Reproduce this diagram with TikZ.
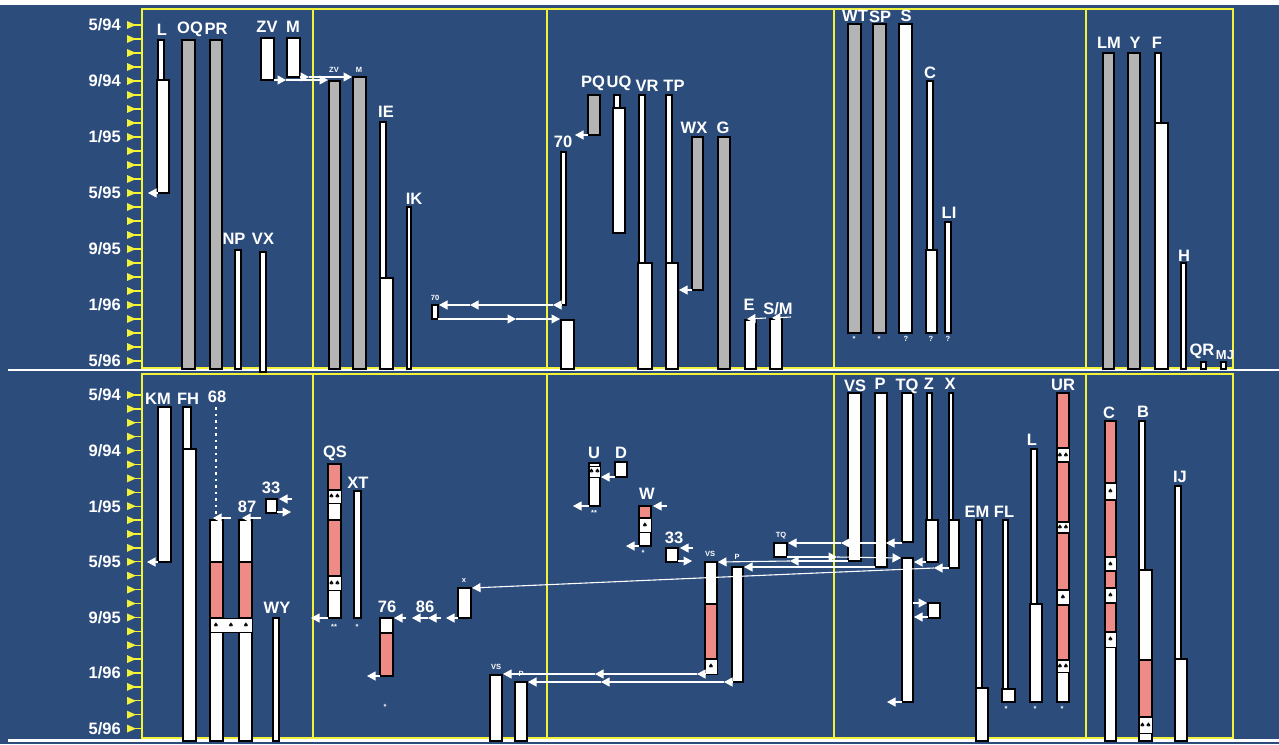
\documentclass[tikz,border=0pt]{standalone}
\usepackage{fontspec}
\setmainfont{Liberation Sans}
\newfontfamily\symfont{DejaVu Sans}
\usepackage{tikz}
\usetikzlibrary{arrows, arrows.meta}
\definecolor{slideblue}{HTML}{2C4C7C}
\definecolor{gridyellow}{HTML}{F2F23A}
\definecolor{barpink}{HTML}{EE8B86}
\definecolor{bargray}{HTML}{B4B4B4}

\begin{document}
\begin{tikzpicture}[x=1pt, y=-1pt]
\tikzstyle{wbar} = [draw=black, fill=white, line width=1.1pt]
\tikzstyle{gbar} = [draw=black, fill=bargray, line width=1.1pt]
\tikzstyle{pbar} = [draw=black, fill=barpink, line width=1.1pt]
\tikzstyle{band} = [draw=black, fill=white, line width=0.9pt]
\tikzstyle{lbl} = [text=white, font=\bfseries\fontsize{16.5}{16.5}\selectfont, inner sep=0pt]
\tikzstyle{axislbl} = [text=white, font=\bfseries\fontsize{16.5}{16.5}\selectfont, inner sep=0pt, anchor=east]
\tikzstyle{tinylbl} = [text=white, font=\bfseries\fontsize{7.5}{7.5}\selectfont, inner sep=0pt]
\tikzstyle{spade} = [text=black, font=\symfont\fontsize{6.5}{6.5}\selectfont, inner sep=0pt]
\tikzstyle{warr} = [white, line width=1.1pt, -{Triangle[width=9pt,length=8.5pt]}]
\tikzstyle{wline} = [white, line width=1.1pt]
\tikzstyle{frame} = [draw=gridyellow, line width=1.3pt]

\useasboundingbox (0,0) rectangle (1279,744);
\fill[slideblue] (0,0) rectangle (1279,744);
\fill[white] (0,0) rectangle (1279,5);
\fill[white] (8,368.5) rectangle (1279,371);
\fill[white] (8,739) rectangle (1279,742);

% time axes
\foreach \i in {0,...,24} {
  \pgfmathsetmacro{\ya}{25+14*\i}
  \pgfmathsetmacro{\yb}{395+13.9*\i}
  \fill[gridyellow] (127,\ya-4) -- (136,\ya) -- (127,\ya+4) -- cycle;
  \draw[gridyellow, line width=1.3pt] (127,\ya) -- (141,\ya);
  \fill[gridyellow] (127,\yb-4) -- (136,\yb) -- (127,\yb+4) -- cycle;
  \draw[gridyellow, line width=1.3pt] (127,\yb) -- (141,\yb);
}
\foreach \i/\mm/\yy in {0/5/94,1/9/94,2/1/95,3/5/95,4/9/95,5/1/96,6/5/96} {
  \node[axislbl] (ta\i) at (121,25+56*\i) {\mm/\yy};
  \node[axislbl] (ba\i) at (121,395+55.6*\i) {\mm/\yy};
}

\draw[frame] (142,9) rectangle (1233,368);
\draw[frame] (142,374) rectangle (1233,738);
\foreach \xx in {313,547,834,1086} {
  \draw[frame] (\xx,9) -- (\xx,368);
  \draw[frame] (\xx,374) -- (\xx,738);
}

% ---------- upper chart ----------
\draw[wbar] (158,40) rectangle (164,80);
\draw[wbar] (157,80) rectangle (169,193);
\draw[warr] (158,193) -- (148,193);
\draw[gbar] (182,40) rectangle (195,369);
\draw[gbar] (210,40) rectangle (222,369);
\draw[wbar] (235,250) rectangle (241,369);
\draw[wbar] (260,252) rectangle (266,372);
\draw[wbar] (261,38) rectangle (274,80);
\draw[wbar] (287,38) rectangle (300,77);
\draw[warr] (274,80) -- (286,80);
\draw[wline] (286,80) -- (316,80);
\draw[warr] (316,80) -- (328,80);
\draw[warr] (300,77) -- (309,77);
\draw[warr] (309,77) -- (352,77);

\draw[gbar] (329,81) rectangle (340,369);
\draw[gbar] (353,77) rectangle (366,369);
\draw[wbar] (380,122) rectangle (386,278);
\draw[wbar] (380,278) rectangle (393,369);
\draw[wbar] (407,207) rectangle (411,369);
\draw[wbar] (432,305) rectangle (438,319);
\draw[wbar] (561,152) rectangle (566,305);
\draw[wbar] (561,320) rectangle (574,369);
\draw[warr] (561,305) -- (553,305);
\draw[warr] (553,305) -- (470,305);
\draw[warr] (470,305) -- (439,305);
\draw[warr] (438,319) -- (516,319);
\draw[warr] (516,319) -- (560,319);
\draw[gbar] (588,95) rectangle (600,135);
\draw[warr] (588,135) -- (575,135);
\draw[wbar] (614,95) rectangle (620,108);
\draw[wbar] (613,108) rectangle (625,233);

\draw[wbar] (639,95) rectangle (645,263);
\draw[wbar] (638,263) rectangle (652,369);
\draw[wbar] (666,95) rectangle (672,263);
\draw[wbar] (666,263) rectangle (678,369);
\draw[gbar] (692,137) rectangle (703,290);
\draw[warr] (692,290) -- (679,290);
\draw[gbar] (718,137) rectangle (730,369);
\draw[wbar] (745,320) rectangle (756,369);
\draw[warr] (766,318) -- (747,319);
\draw[wbar] (770,319) rectangle (782,369);
\draw[warr] (791,317) -- (772,318);

\draw[gbar] (848,24) rectangle (861,333);
\draw[gbar] (873,24) rectangle (886,333);
\draw[wbar] (899,24) rectangle (912,333);
\draw[wbar] (927,81) rectangle (933,250);
\draw[wbar] (926,250) rectangle (937,333);
\draw[wbar] (945,222) rectangle (951,333);

\draw[gbar] (1103,53) rectangle (1114,369);
\draw[gbar] (1128,53) rectangle (1140,369);
\draw[wbar] (1155,53) rectangle (1161,123);
\draw[wbar] (1155,123) rectangle (1168,369);
\draw[wbar] (1181,263) rectangle (1186,369);
\draw[wbar] (1201,362) rectangle (1206,369);
\draw[wbar] (1221,362) rectangle (1226,369);

\node[lbl] (tL) at (162,30) {L};
\node[lbl] (tOQ) at (190,29) {OQ};
\node[lbl] (tPR) at (216,29) {PR};
\node[lbl] (tNP) at (234,239) {NP};
\node[lbl] (tVX) at (263,239) {VX};
\node[lbl] (tZV) at (267,27) {ZV};
\node[lbl] (tM) at (293,27) {M};
\node[tinylbl] (tZVs) at (334,70) {ZV};
\node[tinylbl] (tMs) at (359,70) {M};
\node[lbl] (tIE) at (386,112) {IE};
\node[lbl] (tIK) at (414,199) {IK};
\node[tinylbl] (t70s) at (435,298) {70};
\node[lbl] (t70) at (563,142) {70};
\node[lbl] (tPQ) at (593,83) {PQ};
\node[lbl] (tUQ) at (619,83) {UQ};
\node[lbl] (tVR) at (647,86) {VR};
\node[lbl] (tTP) at (674,86) {TP};
\node[lbl] (tWX) at (694,128) {WX};
\node[lbl] (tG) at (723,128) {G};
\node[lbl] (tE) at (749,305) {E};
\node[lbl] (tSM) at (778,309) {S/M};
\node[lbl] (tWT) at (855,16) {WT};
\node[lbl] (tSP) at (880,17) {SP};
\node[lbl] (tS) at (906,16) {S};
\node[lbl] (tC) at (930,73) {C};
\node[lbl] (tLI) at (949,213) {LI};
\node[lbl] (tLM) at (1109,43) {LM};
\node[lbl] (tY) at (1135,43) {Y};
\node[lbl] (tF) at (1157,43) {F};
\node[lbl] (tH) at (1184,256) {H};
\node[lbl] (tQR) at (1202,351) {QR};
\node[lbl, font=\bfseries\fontsize{13}{13}\selectfont] (tMJ) at (1225,355) {MJ};
\node[tinylbl] (uWT) at (854,339) {*};
\node[tinylbl] (uSP) at (879,339) {*};
\node[tinylbl] (uS) at (906,339) {?};
\node[tinylbl] (uC) at (931,339) {?};
\node[tinylbl] (uLI) at (948,339) {?};

% ---------- lower chart ----------
\draw[wbar] (158,407) rectangle (171,562);
\draw[warr] (158,562) -- (147,562);
\draw[wbar] (183,407) rectangle (191,449);
\draw[wbar] (183,449) rectangle (196,741);
\draw[white, line width=2.5pt, dash pattern=on 2.5pt off 4pt] (216,407) -- (216,515);
\draw[wbar] (210,520) rectangle (223,741);
\draw[pbar] (210,562) rectangle (223,618);
\draw[wbar] (239,520) rectangle (252,741);
\draw[pbar] (239,562) rectangle (252,618);
\draw[band] (210,618) rectangle (252,632);
\node[spade] (s68) at (216,625) {♠};
\node[spade] (s6887) at (231,625) {♠};
\node[spade] (s87) at (246,625) {♠};
\draw[warr] (231,518) -- (213,518);
\draw[warr] (261,518) -- (242,518);
\draw[wbar] (266,499) rectangle (277,513);
\draw[warr] (292,499) -- (279,499);
\draw[warr] (277,512) -- (291,512);
\draw[wbar] (273,618) rectangle (279,741);

\draw[wbar] (328,464) rectangle (341,618);
\draw[pbar] (328,464) rectangle (341,490);
\draw[band] (328,490) rectangle (341,503);
\node[spade] (sqs1) at (334.5,496.5) {♠♠};
\draw[pbar] (328,520) rectangle (341,576);
\draw[band] (328,576) rectangle (341,590);
\node[spade] (sqs2) at (334.5,583) {♠♠};
\draw[warr] (328,618) -- (311,618);
\draw[wbar] (354,491) rectangle (361,618);
\node[tinylbl] (uQS) at (334,627) {**};
\node[tinylbl] (uXT) at (357,627) {*};
\draw[wbar] (380,618) rectangle (393,676);
\draw[pbar] (380,633) rectangle (393,676);
\draw[warr] (380,676) -- (367,676);
\node[tinylbl] (u76) at (385,707) {*};
\draw[wbar] (458,588) rectangle (471,618);
\draw[warr] (458,618) -- (446,618);
\draw[warr] (441,618) -- (428,618);
\draw[warr] (428,618) -- (412,618);
\draw[warr] (406,618) -- (394,618);

\draw[wbar] (490,675) rectangle (502,741);
\draw[wbar] (515,682) rectangle (527,741);
\draw[wbar] (589,463) rectangle (600,506);
\draw[band] (589,466) rectangle (600,477);
\node[spade] (sU) at (594.5,471.5) {♠♠};
\draw[warr] (589,506) -- (573,506);
\node[tinylbl] (uU) at (594,513) {**};
\draw[wbar] (615,462) rectangle (627,477);
\draw[warr] (615,477) -- (601,477);
\draw[wbar] (639,506) rectangle (651,546);
\draw[pbar] (639,506) rectangle (651,518);
\draw[band] (639,518) rectangle (651,532);
\node[spade] (sW) at (645,525) {♠};
\draw[warr] (667,506) -- (653,506);
\draw[warr] (639,546) -- (626,546);
\node[tinylbl] (uW) at (643,553) {*};
\draw[wbar] (666,548) rectangle (678,562);
\draw[warr] (693,548) -- (680,548);
\draw[warr] (678,561) -- (692,561);
\draw[wbar] (705,562) rectangle (717,674);
\draw[pbar] (705,604) rectangle (717,659);
\draw[band] (705,659) rectangle (717,674);
\node[spade] (sVS) at (711,666.5) {♠};
\draw[wbar] (732,567) rectangle (743,682);
\draw[wbar] (774,543) rectangle (787,557);
\draw[warr] (705,674) -- (697,674);
\draw[warr] (697,674) -- (595,674);
\draw[warr] (595,674) -- (503,674);
\draw[warr] (732,682) -- (724,682);
\draw[warr] (724,682) -- (601,682);
\draw[warr] (601,682) -- (528,682);

\draw[wbar] (848,393) rectangle (861,561);
\draw[wbar] (875,393) rectangle (887,567);
\draw[wbar] (902,393) rectangle (913,542);
\draw[wbar] (902,558) rectangle (913,702);
\draw[wbar] (927,393) rectangle (932,520);
\draw[wbar] (926,520) rectangle (938,562);
\draw[wbar] (949,393) rectangle (953,520);
\draw[wbar] (949,520) rectangle (959,568);
\draw[warr] (902,543) -- (886,543);
\draw[warr] (886,543) -- (841,543);
\draw[warr] (841,543) -- (788,543);
\draw[warr] (787,557) -- (837,557);
\draw[warr] (837,557) -- (901,558);
\draw[warr] (848,561) -- (790,561);
\draw[warr] (790,561) -- (718,562);
\draw[warr] (875,567) -- (744,567);
\draw[warr] (926,562) -- (914,562);
\draw[warr] (949,568) -- (934,568);
\draw[warr] (934,568) -- (700,578) -- (472,588);
\draw[wbar] (928,603) rectangle (940,618);
\draw[warr] (913,603) -- (927,603);
\draw[warr] (928,617) -- (914,617);
\draw[warr] (902,702) -- (887,702);

\draw[wbar] (976,520) rectangle (982,688);
\draw[wbar] (976,688) rectangle (988,741);
\draw[wbar] (1003,520) rectangle (1008,689);
\draw[wbar] (1002,689) rectangle (1015,702);
\draw[wbar] (1031,449) rectangle (1037,604);
\draw[wbar] (1030,604) rectangle (1042,702);
\draw[wbar] (1057,393) rectangle (1069,702);
\draw[pbar] (1057,393) rectangle (1069,448);
\draw[band] (1057,448) rectangle (1069,462);
\draw[pbar] (1057,462) rectangle (1069,522);
\draw[band] (1057,522) rectangle (1069,533);
\draw[pbar] (1057,533) rectangle (1069,590);
\draw[band] (1057,590) rectangle (1069,605);
\draw[pbar] (1057,605) rectangle (1069,660);
\draw[band] (1057,660) rectangle (1069,672);
\node[spade] (sUR1) at (1063,455) {♠♠};
\node[spade] (sUR2) at (1063,527.5) {♠♠};
\node[spade] (sUR3) at (1063,597.5) {♠};
\node[spade] (sUR4) at (1063,666) {♠♠};
\node[tinylbl] (uFL) at (1006,709) {*};
\node[tinylbl] (uL) at (1035,709) {*};
\node[tinylbl] (uUR) at (1062,709) {*};

\draw[wbar] (1105,421) rectangle (1116,741);
\draw[pbar] (1105,421) rectangle (1116,483);
\draw[band] (1105,483) rectangle (1116,500);
\draw[pbar] (1105,500) rectangle (1116,557);
\draw[band] (1105,557) rectangle (1116,571);
\draw[pbar] (1105,571) rectangle (1116,588);
\draw[band] (1105,588) rectangle (1116,603);
\draw[pbar] (1105,603) rectangle (1116,632);
\draw[band] (1105,632) rectangle (1116,647);
\node[spade] (sC1) at (1110.5,491.5) {♠};
\node[spade] (sC2) at (1110.5,564) {♠};
\node[spade] (sC3) at (1110.5,595.5) {♠};
\node[spade] (sC4) at (1110.5,639.5) {♠};
\draw[wbar] (1139,421) rectangle (1145,570);
\draw[wbar] (1139,570) rectangle (1152,741);
\draw[pbar] (1139,660) rectangle (1152,717);
\draw[band] (1139,717) rectangle (1152,733);
\node[spade] (sB) at (1145.5,725) {♠♠};
\draw[wbar] (1175,486) rectangle (1181,659);
\draw[wbar] (1175,659) rectangle (1187,741);

\node[lbl] (bKM) at (158,399) {KM};
\node[lbl] (bFH) at (188,399) {FH};
\node[lbl] (b68) at (217,397) {68};
\node[lbl] (b87) at (247,507) {87};
\node[lbl] (b33a) at (271,488) {33};
\node[lbl] (bWY) at (277,608) {WY};
\node[lbl] (bQS) at (335,453) {QS};
\node[lbl] (bXT) at (358,483) {XT};
\node[lbl] (b76) at (387,607) {76};
\node[lbl] (b86) at (425,607) {86};
\node[tinylbl] (bXs) at (464,581) {x};
\node[tinylbl] (bVSs2) at (496,667) {VS};
\node[tinylbl] (bPs2) at (521,674) {P};
\node[lbl] (bU) at (594,453) {U};
\node[lbl] (bD) at (621,453) {D};
\node[lbl] (bW) at (647,494) {W};
\node[lbl] (b33b) at (674,538) {33};
\node[tinylbl] (bVSs) at (710,554) {VS};
\node[tinylbl] (bPs) at (737,557) {P};
\node[tinylbl] (bTQs) at (781,536) {TQ};
\node[lbl] (bVS) at (855,386) {VS};
\node[lbl] (bP) at (880,384) {P};
\node[lbl] (bTQ) at (907,386) {TQ};
\node[lbl] (bZ) at (929,384) {Z};
\node[lbl] (bX) at (950,384) {X};
\node[lbl] (bEM) at (977,512) {EM};
\node[lbl] (bFL) at (1004,512) {FL};
\node[lbl] (bL) at (1032,440) {L};
\node[lbl] (bUR) at (1063,385) {UR};
\node[lbl] (bC) at (1109,413) {C};
\node[lbl] (bB) at (1143,412) {B};
\node[lbl] (bIJ) at (1180,477) {IJ};

\end{tikzpicture}
\end{document}
